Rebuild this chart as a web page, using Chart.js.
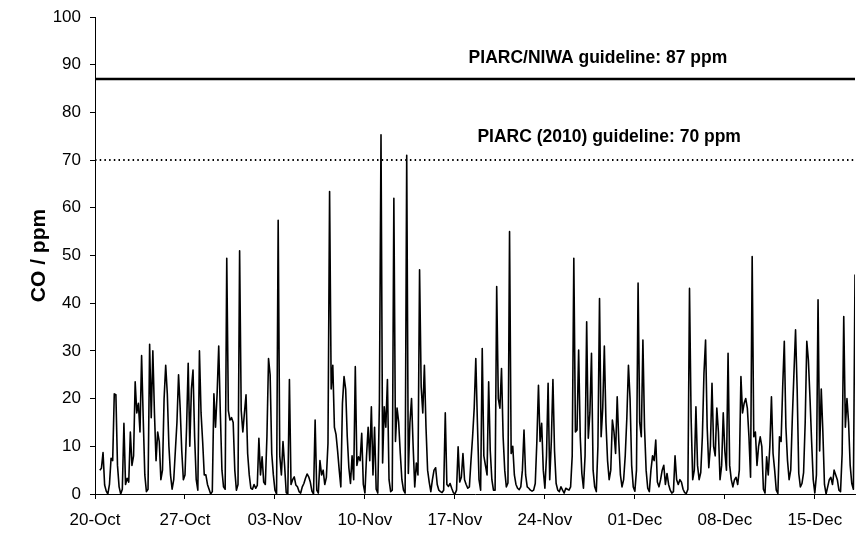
<!DOCTYPE html>
<html>
<head>
<meta charset="utf-8">
<script src="https://cdn.jsdelivr.net/npm/chart.js@4.4.0/dist/chart.umd.min.js"></script>
<style>
  html, body { margin: 0; padding: 0; background: #fff; }
  #wrap { width: 856px; height: 534px; }
</style>
</head>
<body>
<div id="wrap"><canvas id="coChart" width="856" height="534"></canvas></div>
<script>
// CO readings (ppm) every 3 hours, one array per week, first slot = 20-Oct 00:00
const week1 = [null, null, null, 5, 5.4, 8.7, 1.9, 0.6, 0, 2,
  7.5, 7, 21, 20.8, 6, 1.5, 0, 1, 14.8, 2,
  3.3, 2.5, 13, 6, 8, 23.5, 17, 19, 13, 29,
  16, 4, 0.5, 1, 31.4, 16, 30, 17, 7, 13,
  11, 3, 5, 20, 27, 21, 10, 4, 1, 3,
  9, 15, 25, 18, 9, 3];
const week2 = [4, 14, 27.4, 10, 22, 26, 12, 3, 0.8, 30,
  17, 11, 4, 4, 2, 1, 0, 0.5, 21, 14,
  21, 31, 17, 5, 1.5, 1, 49.4, 17.5, 15.5, 16,
  15, 5, 0.8, 2, 51, 17.5, 13, 17, 20.8, 8.5,
  4, 1.2, 1, 2, 1.2, 1.8, 11.7, 4, 7.8, 2.5,
  2, 12, 28.4, 25, 8.5, 4];
const week3 = [0.8, 0, 57.4, 8, 4, 11, 6, 0.3, 0, 24,
  2, 3, 3.6, 1.9, 1.5, 0.5, 0.2, 1.5, 2.2, 3.3,
  4.2, 3.6, 2.5, 0.6, 0, 15.5, 0.8, 0.2, 7, 4,
  5, 2, 3.5, 10.6, 63.4, 22, 27, 14, 12.5, 9,
  5, 1.5, 19, 24.6, 22, 12, 5.5, 2.2, 8, 3,
  26.7, 6, 7.8, 7, 12.7, 2];
const week4 = [0.2, 8, 14, 7, 18.3, 4, 14, 1, 0.2, 19,
  75.3, 6.5, 18.3, 14, 24, 3, 0.5, 0.8, 62, 11,
  18, 15, 8.5, 3, 0.8, 0.2, 71, 4.3, 15, 20,
  10, 1.5, 6.5, 4, 47, 22.5, 17, 27, 14, 5,
  2.5, 0.5, 3, 5, 5.5, 2, 0.8, 0.5, 0.3, 0.8,
  17, 2, 1.6, 2.2, 1.2, 0.3];
const week5 = [0, 0.8, 9.9, 2.5, 3.5, 8.5, 3, 2, 1.2, 1.5,
  7, 12, 18, 28.4, 15, 3, 0.8, 30.5, 8, 6,
  4, 23.5, 9, 3, 0.8, 0.8, 43.5, 20, 18, 26.3,
  12, 5, 1.5, 2.3, 55, 8.5, 10, 4, 2, 1.2,
  0.9, 1.5, 5, 13.4, 4, 1.5, 1.2, 0.8, 0.6, 0.8,
  2.2, 11, 22.8, 11, 14.8, 5];
const week6 = [1.2, 8, 23.2, 3, 11, 24, 9, 2.2, 0.8, 0.5,
  1.5, 0.8, 0.2, 1.2, 1, 0.8, 1.5, 8, 49.4, 13,
  13.4, 30.2, 12, 4.3, 1.2, 8, 36.1, 11.7, 17, 29.5,
  5, 1.5, 0.5, 10, 41, 12, 18, 31, 15, 7,
  3, 5, 15.5, 13, 8.5, 20.4, 11, 4, 1.5, 3,
  8, 16, 27, 20, 6, 1.5];
const week7 = [0.6, 5, 44.2, 15, 12, 32.3, 14, 5, 1.2, 0.5,
  5, 8, 7, 11.3, 2.5, 1.5, 3, 5, 6, 2,
  4.3, 2, 0.8, 0.2, 0.5, 8, 3, 2, 3, 2.5,
  1, 0.3, 0.1, 1, 43.1, 16, 3, 5, 18.3, 6,
  3, 4.5, 12, 25.3, 32.3, 14, 5.5, 10, 23.2, 10,
  8, 18, 13, 3, 6, 17];
const week8 = [9, 5, 29.5, 6, 3, 1.5, 3, 3.5, 2, 5,
  24.6, 17, 19, 20, 18, 12, 3.5, 49.8, 12, 13,
  6, 10, 12, 10, 1, 0.2, 7.8, 4, 10, 20.4,
  8.5, 5, 0.8, 0.1, 12, 11, 22.5, 32, 14, 7,
  3, 5, 16, 25.3, 34.4, 22, 4.3, 1.5, 2.2, 4.5,
  15, 32, 28, 20, 11, 3];
const week9 = [0.2, 4, 40.7, 9, 22, 13, 2, 0, 1.5, 3,
  3.5, 2, 5, 4, 3, 0.8, 0.5, 8.5, 37.2, 14,
  20, 15, 6, 2.2, 1, 46];

const stepHours = 3;
const weekLabels = ['20-Oct', '27-Oct', '03-Nov', '10-Nov', '17-Nov', '24-Nov', '01-Dec', '08-Dec', '15-Dec'];

const niwaLimit = 87;
const piarcLimit = 70;
const niwaText = 'PIARC/NIWA guideline: 87 ppm';
const piarcText = 'PIARC (2010) guideline: 70 ppm';

const co = [].concat(week1, week2, week3, week4, week5, week6, week7, week8, week9);
const lastHour = (co.length - 1) * stepHours;
const points = co.map((v, i) => ({ x: i * stepHours, y: v }));

const FONT = '"Liberation Sans", Arial, Helvetica, sans-serif';

// writes the guideline captions above their lines
const guideLabels = {
  id: 'guideLabels',
  afterDatasetsDraw(chart) {
    const { ctx, scales: { x, y } } = chart;
    ctx.save();
    ctx.font = 'bold 17.5px ' + FONT;
    ctx.fillStyle = '#000';
    ctx.textAlign = 'center';
    ctx.textBaseline = 'middle';
    ctx.fillText(niwaText, x.getPixelForValue(939), y.getPixelForValue(niwaLimit) - 21);
    ctx.fillText(piarcText, x.getPixelForValue(960), y.getPixelForValue(piarcLimit) - 23);
    ctx.restore();
  }
};

new Chart(document.getElementById('coChart'), {
  type: 'line',
  data: {
    datasets: [
      {
        label: 'CO',
        data: points,
        borderColor: '#000',
        borderWidth: 1.6,
        borderJoinStyle: 'round',
        pointRadius: 0,
        tension: 0,
        order: 2
      },
      {
        label: 'PIARC/NIWA',
        data: [{ x: 0, y: niwaLimit }, { x: lastHour, y: niwaLimit }],
        borderColor: '#000',
        borderWidth: 2.5,
        pointRadius: 0,
        order: 1
      },
      {
        label: 'PIARC (2010)',
        data: [{ x: 0, y: piarcLimit }, { x: lastHour, y: piarcLimit }],
        borderColor: '#000',
        borderWidth: 2,
        borderDash: [1.5, 3.2],
        pointRadius: 0,
        order: 1
      }
    ]
  },
  options: {
    responsive: false,
    animation: false,
    layout: { padding: { top: 17, right: 1, left: 0, bottom: 0 } },
    plugins: {
      legend: { display: false },
      tooltip: { enabled: false }
    },
    scales: {
      x: {
        type: 'linear',
        min: 0,
        max: lastHour,
        afterBuildTicks: (scale) => {
          scale.ticks = weekLabels.map((_, k) => ({ value: k * 7 * 24 }));
        },
        afterFit: (scale) => { scale.height = 40; },
        ticks: {
          color: '#000',
          font: { family: FONT, size: 17 },
          padding: 11,
          maxRotation: 0,
          autoSkip: false,
          callback: (v) => weekLabels[Math.round(v / 168)]
        },
        grid: { drawOnChartArea: false, drawTicks: true, tickLength: 5, color: '#000' },
        border: { display: true, color: '#000', width: 1 }
      },
      y: {
        min: 0,
        max: 100,
        afterFit: (scale) => {
          scale.width = 95;
          scale.paddingTop = 0;
        },
        ticks: {
          stepSize: 10,
          color: '#000',
          font: { family: FONT, size: 17 },
          padding: 9
        },
        grid: { drawOnChartArea: false, drawTicks: true, tickLength: 5, color: '#000' },
        border: { display: true, color: '#000', width: 1 },
        title: {
          display: true,
          text: 'CO / ppm',
          color: '#000',
          font: { family: FONT, size: 21, weight: 'bold' },
          padding: { top: 27, bottom: 0 }
        }
      }
    }
  },
  plugins: [guideLabels]
});
</script>
</body>
</html>
